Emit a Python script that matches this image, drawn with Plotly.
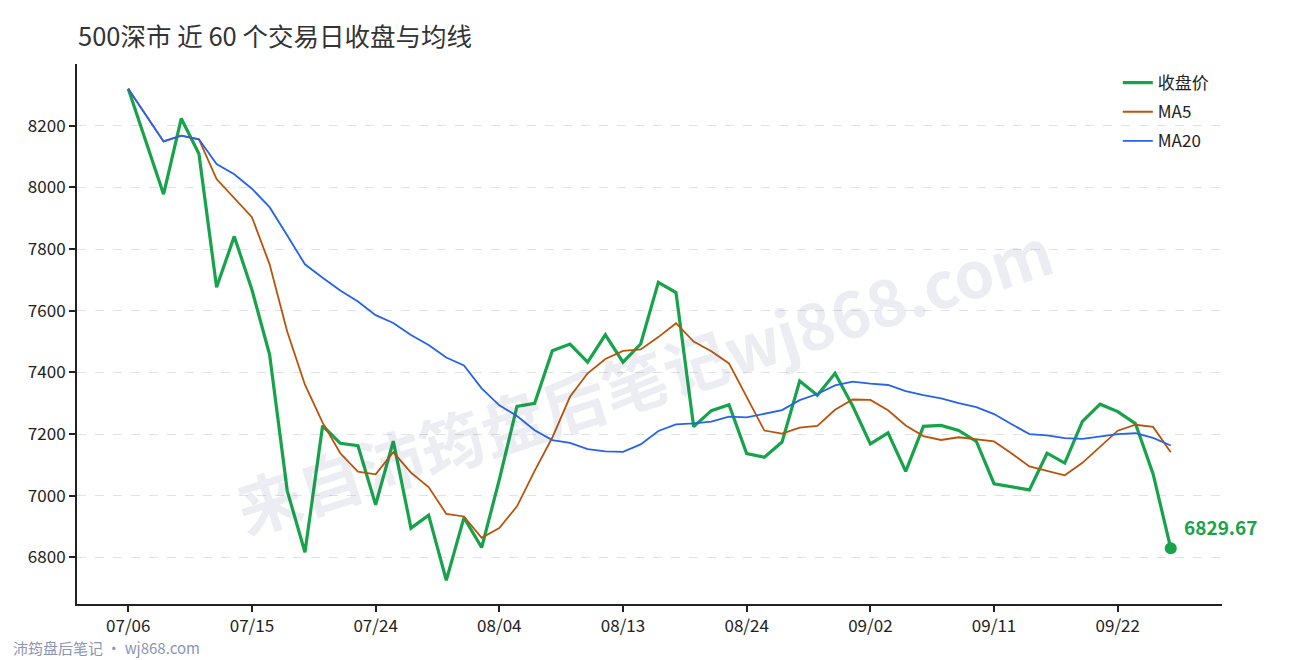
import pandas as pd
import plotly.graph_objects as go

# 60 trading days, closing prices
dates = pd.bdate_range("2020-07-06", periods=60).strftime("%m/%d").tolist()

close = [
    8320, 8149, 7978, 8223, 8109, 7676, 7841, 7668, 7458, 7016,
    6817, 7227, 7170, 7162, 6971, 7177, 6895, 6937, 6726, 6929,
    6832, 7052, 7290, 7300, 7470, 7492, 7433, 7522, 7433, 7492,
    7692, 7659, 7224, 7276, 7295, 7137, 7125, 7174, 7372, 7326,
    7397, 7291, 7168, 7204, 7079, 7225, 7228, 7212, 7176, 7039,
    7030, 7019, 7138, 7106, 7241, 7297, 7273, 7234, 7071, 6829.67,
]

tick_labels = ["07/06", "07/15", "07/24", "08/04", "08/13",
               "08/24", "09/02", "09/11", "09/22"]

df = pd.DataFrame({"date": dates, "close": close})
df["ma5"] = df["close"].rolling(5, min_periods=1).mean()
df["ma20"] = df["close"].rolling(20, min_periods=1).mean()

font = "Noto Sans CJK SC"

# page body has an 8px margin, so the figure is 8px smaller than the window
W, H = 1282, 652

fig = go.Figure()

fig.add_trace(go.Scatter(x=df["date"], y=df["close"], name="收盘价", legendgroup="c",
                         mode="lines", line=dict(color="#16a34a", width=3.2)))
fig.add_trace(go.Scatter(x=df["date"], y=df["ma5"], name="MA5", legendgroup="m5",
                         mode="lines", line=dict(color="#b9530b", width=1.8)))
fig.add_trace(go.Scatter(x=df["date"], y=df["ma20"], name="MA20", legendgroup="m20",
                         mode="lines", line=dict(color="#2563eb", width=1.8)))

# last close marker + label
last = df.iloc[-1]
fig.add_trace(go.Scatter(x=[last["date"]], y=[last["close"]], mode="markers",
                         marker=dict(color="#16a34a", size=12),
                         showlegend=False, hoverinfo="skip"))
fig.add_annotation(x=last["date"], y=last["close"], text=f"<b>{last['close']:.2f}</b>",
                   showarrow=False, xanchor="left", yanchor="bottom",
                   xshift=11, yshift=6, font=dict(size=19, color="#16a34a", family=font))

# watermark
fig.add_annotation(xref="paper", yref="paper", x=0.495, y=0.75,
                   text="<b>来自沛筠盘后笔记wj868.com</b>", showarrow=False,
                   textangle=-18, font=dict(size=64, color="rgba(60,80,130,0.1)", family=font))

# footer
fig.add_annotation(xref="paper", yref="paper", x=-0.058, y=-0.08,
                   xanchor="left", yanchor="middle", showarrow=False,
                   text="沛筠盘后笔记 · wj868.com",
                   font=dict(size=15, color="#8a96b4", family=font))

fig.update_layout(
    width=W, height=H,
    margin=dict(l=69, r=68, t=56, b=56),
    paper_bgcolor="white", plot_bgcolor="white",
    font=dict(family=font, size=17, color="#222"),
    title=dict(text="500深市 近 60 个交易日收盘与均线", x=70 / W, xanchor="left",
               y=1 - 29 / H, yanchor="middle",
               font=dict(size=25.5, color="#333", family=font)),
    legend=dict(x=0.909, y=0.998, xanchor="left", yanchor="top",
                bgcolor="rgba(0,0,0,0)", font=dict(size=17, color="#222"),
                tracegroupgap=4),
    showlegend=True,
)

fig.update_xaxes(type="category", range=[-2.9, 61.9],
                 tickmode="array", tickvals=tick_labels, ticktext=tick_labels,
                 showgrid=False, showline=True, linecolor="#222", linewidth=2,
                 ticks="outside", ticklen=6, tickwidth=2, tickcolor="#222",
                 zeroline=False)
fig.update_yaxes(range=[6649, 8400], tickvals=[6800, 7000, 7200, 7400, 7600, 7800, 8000, 8200],
                 showgrid=True, gridcolor="#e2e2e2", griddash="dash", gridwidth=1,
                 showline=True, linecolor="#222", linewidth=2,
                 ticks="outside", ticklen=6, tickwidth=2, tickcolor="#222",
                 zeroline=False)

fig.write_html("out.html")
